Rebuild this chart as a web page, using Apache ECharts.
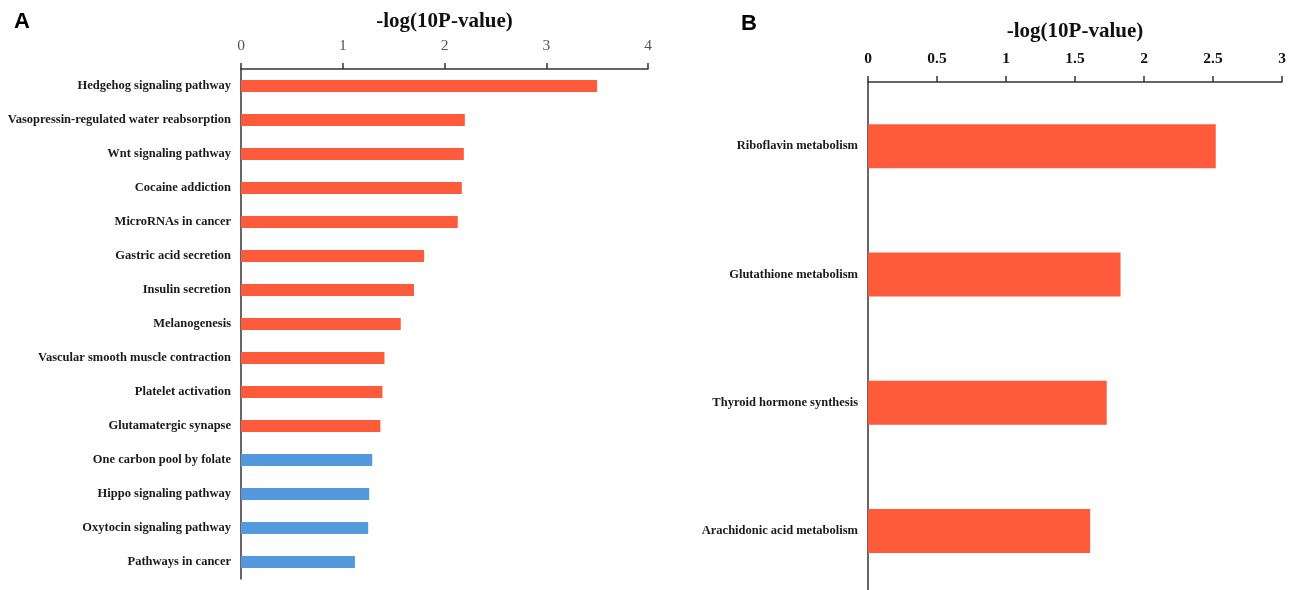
<!DOCTYPE html>
<html>
<head>
<meta charset="utf-8">
<script src="https://cdn.jsdelivr.net/npm/echarts@6/dist/echarts.min.js"></script>
<style>
  html, body { margin: 0; padding: 0; background: #fff; }
  #chart { width: 1293px; height: 590px; }
</style>
</head>
<body>
<div id="chart"></div>
<script>
// Panel A: KEGG pathways, -log10(P-value)
const pathwaysA = [
  'Hedgehog signaling pathway',
  'Vasopressin-regulated water reabsorption',
  'Wnt signaling pathway',
  'Cocaine addiction',
  'MicroRNAs in cancer',
  'Gastric acid secretion',
  'Insulin secretion',
  'Melanogenesis',
  'Vascular smooth muscle contraction',
  'Platelet activation',
  'Glutamatergic synapse',
  'One carbon pool by folate',
  'Hippo signaling pathway',
  'Oxytocin signaling pathway',
  'Pathways in cancer'
];
const valuesA = [3.50, 2.20, 2.19, 2.17, 2.13, 1.80, 1.70, 1.57, 1.41, 1.39, 1.37, 1.29, 1.26, 1.25, 1.12];
// pathways from this index on are drawn in the second (blue) group
const secondGroupStartA = 11;
const ticksA = [0, 1, 2, 3, 4];

// Panel B: metabolic pathways, -log10(P-value)
const pathwaysB = [
  'Riboflavin metabolism',
  'Glutathione metabolism',
  'Thyroid hormone synthesis',
  'Arachidonic acid metabolism'
];
const valuesB = [2.52, 1.83, 1.73, 1.61];
const ticksB = [0, 0.5, 1, 1.5, 2, 2.5, 3];

const ORANGE = '#FD5B3B';
const BLUE = '#5499DB';
const SERIF = '"Liberation Serif", "Times New Roman", serif';

const chart = echarts.init(document.getElementById('chart'), null, { renderer: 'canvas' });

function valueAxis(gridIndex, ticks, interval, labelStyle, nameGap) {
  return {
    type: 'value',
    gridIndex: gridIndex,
    position: 'top',
    min: ticks[0],
    max: ticks[ticks.length - 1],
    interval: interval,
    name: '-log(10P-value)',
    nameLocation: 'middle',
    nameGap: nameGap,
    nameTextStyle: { fontFamily: SERIF, fontWeight: 'bold', fontSize: 21, color: '#111' },
    axisLine: { show: true, lineStyle: { color: '#333', width: 1.5 } },
    axisTick: { show: true, inside: false, length: 6, lineStyle: { color: '#333', width: 1.5 } },
    axisLabel: Object.assign({ margin: 15, fontFamily: SERIF, fontSize: 15.5 }, labelStyle),
    splitLine: { show: false }
  };
}

function categoryAxis(gridIndex, cats) {
  return {
    type: 'category',
    gridIndex: gridIndex,
    data: cats,
    inverse: true,
    axisLine: { show: true, lineStyle: { color: '#333', width: 1.5 } },
    axisTick: { show: false },
    axisLabel: { margin: 10, fontFamily: SERIF, fontWeight: 'bold', fontSize: 12.5, color: '#1a1a1a' },
    splitLine: { show: false }
  };
}

chart.setOption({
  animation: false,
  backgroundColor: '#fff',
  title: [
    { text: 'A', left: 9, top: 6, textStyle: { fontFamily: 'Liberation Sans, Arial, sans-serif', fontWeight: 'bold', fontSize: 22, color: '#000' } },
    { text: 'B', left: 736, top: 8, textStyle: { fontFamily: 'Liberation Sans, Arial, sans-serif', fontWeight: 'bold', fontSize: 22, color: '#000' } }
  ],
  grid: [
    { left: 241, right: 645, top: 69, height: 510, outerBoundsMode: 'none' },
    { left: 868, right: 11, top: 82, height: 513, outerBoundsMode: 'none' }
  ],
  xAxis: [
    valueAxis(0, ticksA, 1, { color: '#555' }, 37),
    valueAxis(1, ticksB, 0.5, { color: '#111', fontWeight: 'bold' }, 40)
  ],
  yAxis: [
    categoryAxis(0, pathwaysA),
    categoryAxis(1, pathwaysB)
  ],
  series: [
    {
      type: 'bar',
      xAxisIndex: 0,
      yAxisIndex: 0,
      data: valuesA,
      barWidth: 12,
      itemStyle: {
        color: function (p) { return p.dataIndex < secondGroupStartA ? ORANGE : BLUE; }
      }
    },
    {
      type: 'bar',
      xAxisIndex: 1,
      yAxisIndex: 1,
      data: valuesB,
      barWidth: 44,
      itemStyle: { color: ORANGE }
    }
  ]
});
</script>
</body>
</html>
